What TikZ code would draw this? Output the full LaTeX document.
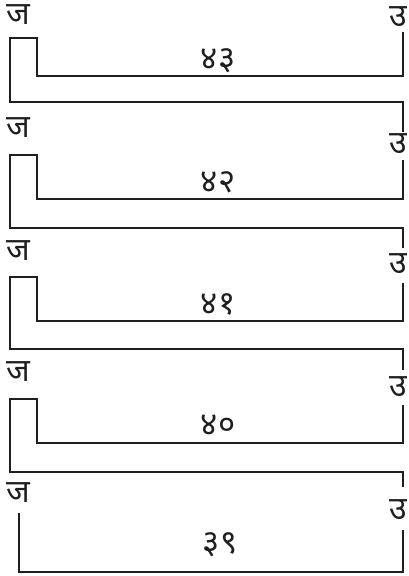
\documentclass[tikz,border=0pt]{standalone}
\usepackage{fontspec}
\newfontfamily\deva[Script=Devanagari]{Noto Sans}
\begin{document}
\begin{tikzpicture}[x=1pt,y=-1pt,
  wire/.style={line width=2pt, draw=black!88},
  lbl/.style={font=\deva\fontsize{32}{32}\selectfont, inner sep=0pt, text=black!88},
  num/.style={font=\deva\fontsize{33}{33}\selectfont, inner sep=0pt, text=black!88}]
\useasboundingbox (0,0) rectangle (408,576);
% labels
\node[lbl] (j1) at (18,15) {ज};
\node[lbl] (j2) at (18,128) {ज};
\node[lbl] (j3) at (18,251) {ज};
\node[lbl] (j4) at (18,372) {ज};
\node[lbl] (j5) at (18,493) {ज};
\node[lbl] (u1) at (398,17) {उ};
\node[lbl] (u2) at (398,144) {उ};
\node[lbl] (u3) at (398,264) {उ};
\node[lbl] (u4) at (398,387) {उ};
\node[lbl] (u5) at (398,510) {उ};
\node[num] (n1) at (218,61) {४३};
\node[num] (n2) at (218,182) {४२};
\node[num] (n3) at (218,304) {४१};
\node[num] (n4) at (218,425) {४०};
\node[num] (n5) at (220,545) {३९};
% wire
\foreach \k/\ua/\T/\I/\O/\ub in {1/32/38/76/102/132, 2/160/155/199/228/248, 3/283/277/321/349/370, 4/405/399/443/472/487}{
  \coordinate (s\k) at (403,\ua);
  \coordinate (a\k) at (403,\I);
  \coordinate (b\k) at (37,\I);
  \coordinate (c\k) at (37,\T);
  \coordinate (d\k) at (10,\T);
  \coordinate (e\k) at (10,\O);
  \coordinate (f\k) at (403,\O);
  \coordinate (g\k) at (403,\ub);
  \draw[wire] (s\k) -- (a\k) -- (b\k) -- (c\k) -- (d\k) -- (e\k) -- (f\k) -- (g\k);
}
\coordinate (s5) at (403,530);
\coordinate (a5) at (403,572);
\coordinate (b5) at (19,572);
\coordinate (c5) at (19,513);
\draw[wire] (s5) -- (a5) -- (b5) -- (c5);
\end{tikzpicture}
\end{document}
